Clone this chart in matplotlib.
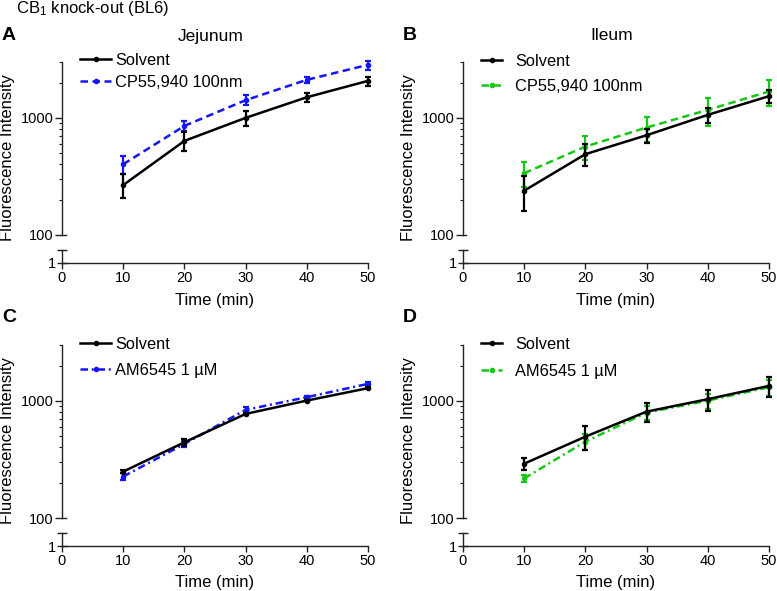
import matplotlib
matplotlib.use("Agg")
import matplotlib.pyplot as plt
import matplotlib.transforms as mtransforms
from matplotlib.lines import Line2D
import numpy as np

plt.rcParams['font.family'] = ['Liberation Sans', 'DejaVu Sans']
plt.rcParams['mathtext.fontset'] = 'custom'
plt.rcParams['mathtext.rm'] = 'Liberation Sans'
plt.rcParams['mathtext.it'] = 'Liberation Sans:italic'

time = [10, 20, 30, 40, 50]
xticks = [0, 10, 20, 30, 40, 50]

# Panel A - Jejunum, CP55,940
a_solv = [267, 636, 1000, 1500, 2070]
a_solv_err = [62, 115, 150, 125, 180]
a_trt = [402, 854, 1416, 2113, 2838]
a_trt_err = [68, 85, 140, 140, 250]

# Panel B - Ileum, CP55,940
b_solv = [239, 490, 711, 1061, 1532]
b_solv_err = [78, 105, 95, 150, 195]
b_trt = [337, 569, 827, 1170, 1680]
b_trt_err = [80, 130, 200, 310, 420]

# Panel C - Jejunum, AM6545
c_solv = [249, 443, 774, 1006, 1284]
c_solv_err = [8, 30, 15, 15, 25]
c_trt = [226, 429, 838, 1075, 1398]
c_trt_err = [15, 25, 40, 30, 60]

# Panel D - Ileum, AM6545
d_solv = [291, 495, 810, 1034, 1343]
d_solv_err = [32, 115, 150, 210, 270]
d_trt = [218, 449, 794, 1006, 1310]
d_trt_err = [15, 70, 110, 150, 200]

BLUE = '#1414ff'
GREEN = '#14c814'
AXC = '#222222'

W, H = 777, 591
fig = plt.figure(figsize=(W / 100, H / 100), dpi=100)


def fx(px):
    return px / W


def fy(py):
    return 1 - py / H


def make_panel(x0, x1, ytop, y100, ylow_top, yaxis, solv, solv_err, trt, trt_err,
               color, dash, label, letter, title, handlelen, textpad, legy, lspace):
    # upper log axes
    ax = fig.add_axes([fx(x0), fy(y100), fx(x1) - fx(x0), fy(ytop) - fy(y100)])
    ax.set_yscale('log')
    ax.set_ylim(100, 3000)
    ax.set_xlim(0, 50)
    for s in ['top', 'right', 'bottom']:
        ax.spines[s].set_visible(False)
    ax.spines['left'].set_linewidth(1.0)
    ax.spines['left'].set_color(AXC)
    ax.set_yticks([100, 1000])
    ax.set_yticklabels(['100', '1000'])
    ax.yaxis.set_minor_locator(matplotlib.ticker.LogLocator(base=10, subs=np.arange(2, 10)))
    ax.yaxis.set_minor_formatter(matplotlib.ticker.NullFormatter())
    ax.tick_params(axis='y', which='major', direction='out', length=5, width=1.0,
                   color=AXC, labelsize=10.5, pad=1)
    ax.tick_params(axis='y', which='minor', direction='out', length=2.5, width=0.8,
                   color=AXC)
    ax.set_xticks([])
    ax.patch.set_alpha(0)
    # right half of break tick at 100
    tr = mtransforms.blended_transform_factory(ax.transAxes, ax.transData)
    ax.plot([0, 3.5 / (x1 - x0)], [100, 100], color=AXC, lw=1.0, transform=tr,
            clip_on=False)

    ax.errorbar(time, solv, yerr=solv_err, color='black', lw=1.8, marker='o',
                ms=3, capsize=2.5, elinewidth=1.6, capthick=1.6,
                clip_on=False, zorder=3)
    eb = ax.errorbar(time, trt, yerr=trt_err, color=color, lw=1.8, marker='o',
                     ms=3, capsize=2.5, elinewidth=1.6, capthick=1.6,
                     clip_on=False, zorder=2)
    eb.lines[0].set_linestyle(dash)

    # lower linear axes (broken segment)
    axl = fig.add_axes([fx(x0), fy(yaxis), fx(x1) - fx(x0), fy(ylow_top) - fy(yaxis)])
    axl.set_ylim(1, 1.5)
    axl.set_xlim(0, 50)
    for s in ['top', 'right']:
        axl.spines[s].set_visible(False)
    for s in ['left', 'bottom']:
        axl.spines[s].set_linewidth(1.0)
        axl.spines[s].set_color(AXC)
    axl.set_yticks([1, 1.5])
    axl.set_yticklabels(['1', ''])
    axl.tick_params(axis='y', direction='inout', length=7, width=1.0, color=AXC,
                    labelsize=10.5, pad=1)
    axl.set_xticks(xticks)
    axl.set_xticklabels([str(v) for v in xticks])
    axl.tick_params(axis='x', direction='out', length=4, width=1.0, color=AXC,
                    labelsize=10.5, pad=2)
    axl.patch.set_alpha(0)

    cx = (x0 + x1) / 2
    fig.text(fx(cx), fy(yaxis + 37), 'Time (min)', ha='center', va='center', fontsize=12)
    fig.text(fx(x0 - 54), fy(ytop + 96), 'Fluorescence Intensity',
             rotation=90, ha='center', va='center', fontsize=12)
    fig.text(fx(x0 - 60), fy(ytop - 27), letter, ha='left', va='center',
             fontsize=14, fontweight='bold')
    if title:
        fig.text(fx(cx - 4), fy(ytop - 26), title, ha='center', va='center', fontsize=12.5)

    h1 = Line2D([], [], color='black', lw=1.8, marker='o', ms=3)
    h2 = Line2D([], [], color=color, lw=1.8, marker='o', ms=3, linestyle=dash)
    ax.legend(handles=[h1, h2], labels=['Solvent', label], loc='upper left',
              bbox_to_anchor=(fx(x0 + 18), fy(legy)), bbox_transform=fig.transFigure,
              frameon=False, fontsize=11.8, handlelength=handlelen, handletextpad=textpad,
              borderpad=0, borderaxespad=0, labelspacing=lspace)
    return ax


make_panel(62, 368, 62, 235, 250, 263, a_solv, a_solv_err, a_trt, a_trt_err,
           BLUE, (0, (3.0, 1.8)), 'CP55,940 100nm', 'A', 'Jejunum', 1.9, 0.25, 53, 0.42)
make_panel(463, 769, 62, 235, 250, 263, b_solv, b_solv_err, b_trt, b_trt_err,
           GREEN, (0, (3.0, 1.8)), 'CP55,940 100nm', 'B', 'Ileum', 1.3, 0.8, 54, 0.58)
make_panel(62, 368, 345, 518, 533, 546, c_solv, c_solv_err, c_trt, c_trt_err,
           BLUE, (0, (3.0, 1.5, 0.8, 1.5)), 'AM6545 1 µM', 'C', None, 1.9, 0.25, 337, 0.65)
make_panel(463, 769, 345, 518, 533, 546, d_solv, d_solv_err, d_trt, d_trt_err,
           GREEN, (0, (3.0, 1.5, 0.8, 1.5)), 'AM6545 1 µM', 'D', None, 1.3, 0.8, 337, 0.72)

fig.text(fx(16), fy(9), 'CB$_1$ knock-out (BL6)', ha='left', va='center', fontsize=12)

fig.savefig('out.png', dpi=100)
